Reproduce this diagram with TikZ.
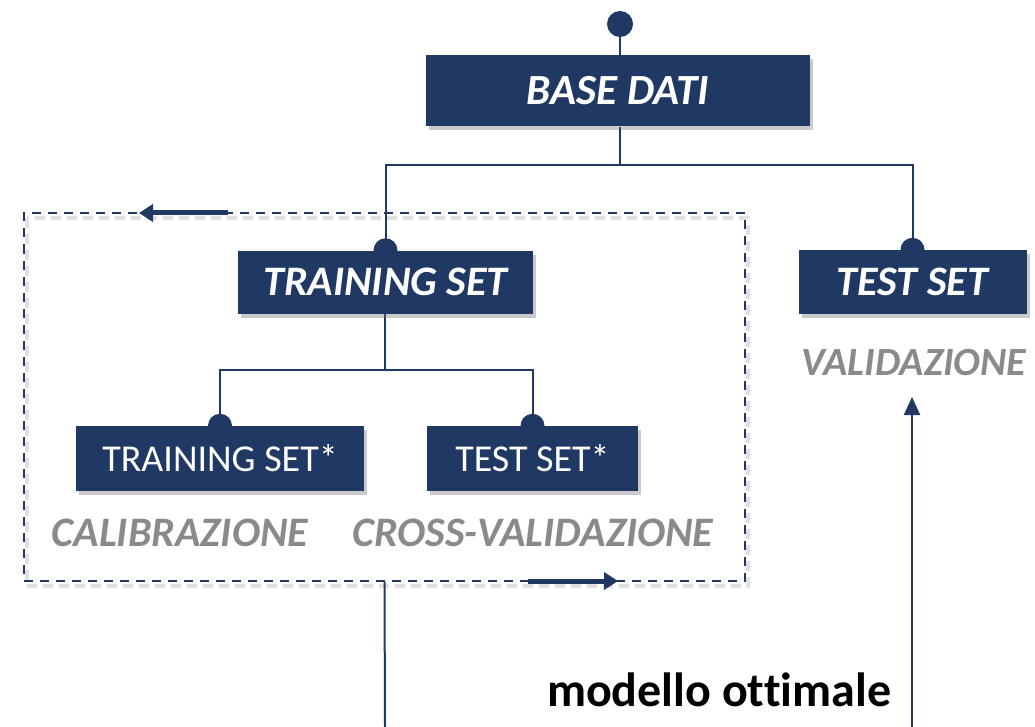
\documentclass[tikz,border=0pt]{standalone}
\usepackage{fontspec}
\setmainfont{Carlito}[Ligatures={NoCommon}]
\usetikzlibrary{arrows.meta,shadows,backgrounds}
\definecolor{navy}{HTML}{203864}
\definecolor{labgray}{HTML}{8A8A8A}
\tikzset{
  box/.style={fill=navy, text=white, inner sep=0pt, drop shadow={shadow xshift=3pt, shadow yshift=-4pt, opacity=0.35, fill=black!60}},
  bigbox/.style={box, font=\fontsize{43}{46}\selectfont\bfseries\itshape},
  midbox/.style={box, font=\fontsize{42}{45}\selectfont\bfseries\itshape},
  smallbox/.style={box, font=\fontsize{38}{41}\selectfont},
  grlabel/.style={text=labgray, font=\fontsize{42}{45}\selectfont\bfseries\itshape, inner sep=0pt},
  conn/.style={draw=navy, line width=2pt},
  dot/.style={circle, fill=navy, inner sep=0pt, minimum size=#1},
  dashbox/.style={draw=navy, line width=2pt, dash pattern=on 9pt off 7pt, inner sep=0pt},
  dashshadow/.style={draw=black!12, line width=4pt, dash pattern=on 10pt off 6pt},
  thickarrow/.style={draw=navy, line width=5pt, -{Triangle[length=14pt, width=17pt]}},
  uparrow/.style={draw=navy, line width=2pt, -{Triangle[length=18pt, width=16pt]}},
}
\begin{document}
\begin{tikzpicture}[x=1pt, y=-1pt]
\useasboundingbox (0,0) rectangle (1035,727);
% dashed frame
\node[dashbox, minimum width=721pt, minimum height=367pt] (frame) at (384.5,397) {};
% boxes
\node[bigbox, minimum width=384pt, minimum height=71pt] (base) at (618,91) {BASE DATI};
\node[midbox, minimum width=295pt, minimum height=63pt] (train) at (385.5,282) {TRAINING SET};
\node[midbox, minimum width=228pt, minimum height=64pt] (test) at (912.5,282) {TEST SET};
\node[smallbox, minimum width=288pt, minimum height=65pt] (train2) at (220,458.5) {TRAINING SET*};
\node[smallbox, minimum width=211pt, minimum height=65pt] (test2) at (532.5,458.5) {TEST SET*};
% labels
\node[grlabel, font=\fontsize{40}{44}\selectfont\bfseries\itshape] (val) at (914,363) {VALIDAZIONE};
\node[grlabel] (cal) at (180,533) {CALIBRAZIONE};
\node[grlabel] (cross) at (533,533) {CROSS-VALIDAZIONE};
\node[font=\fontsize{48}{52}\selectfont\bfseries, inner sep=0pt] (opt) at (719,690) {modello ottimale};
% coordinates
\coordinate (split1) at (620,165);
\coordinate (split2) at (385,370);
\coordinate (a1s) at (228,213);
\coordinate (a1e) at (139,213);
\coordinate (a2s) at (528,581);
\coordinate (a2e) at (618,581);
\coordinate (botL) at (385,727);
\coordinate (botR) at (912,727);
\coordinate (arrR) at (912,397);
\coordinate (shA) at (27,218);
\coordinate (shB) at (748,586);
\begin{pgfonlayer}{background}
\draw[dashshadow] (shA) rectangle (shB);
\node[dot=26pt] (topdot) at (620,24) {};
\draw[conn] (topdot) -- (topdot |- base.north);
\draw[conn] (base.south -| split1) -- (split1) -| (train.north);
\draw[conn] (split1) -| (test.north);
\draw[conn] (train.south -| split2) -- (split2) -| (train2.north);
\draw[conn] (split2) -| (test2.north);
\node[dot=24pt] (d1) at (train.north) {};
\node[dot=24pt] (d2) at (test.north) {};
\node[dot=24pt] (d3) at (train2.north) {};
\node[dot=24pt] (d4) at (test2.north) {};
\end{pgfonlayer}
\draw[thickarrow] (a1s) -- (a1e);
\draw[thickarrow] (a2s) -- (a2e);
\draw[conn] (frame.south) -- (botL);
\draw[uparrow] (botR) -- (arrR);
\end{tikzpicture}
\end{document}
